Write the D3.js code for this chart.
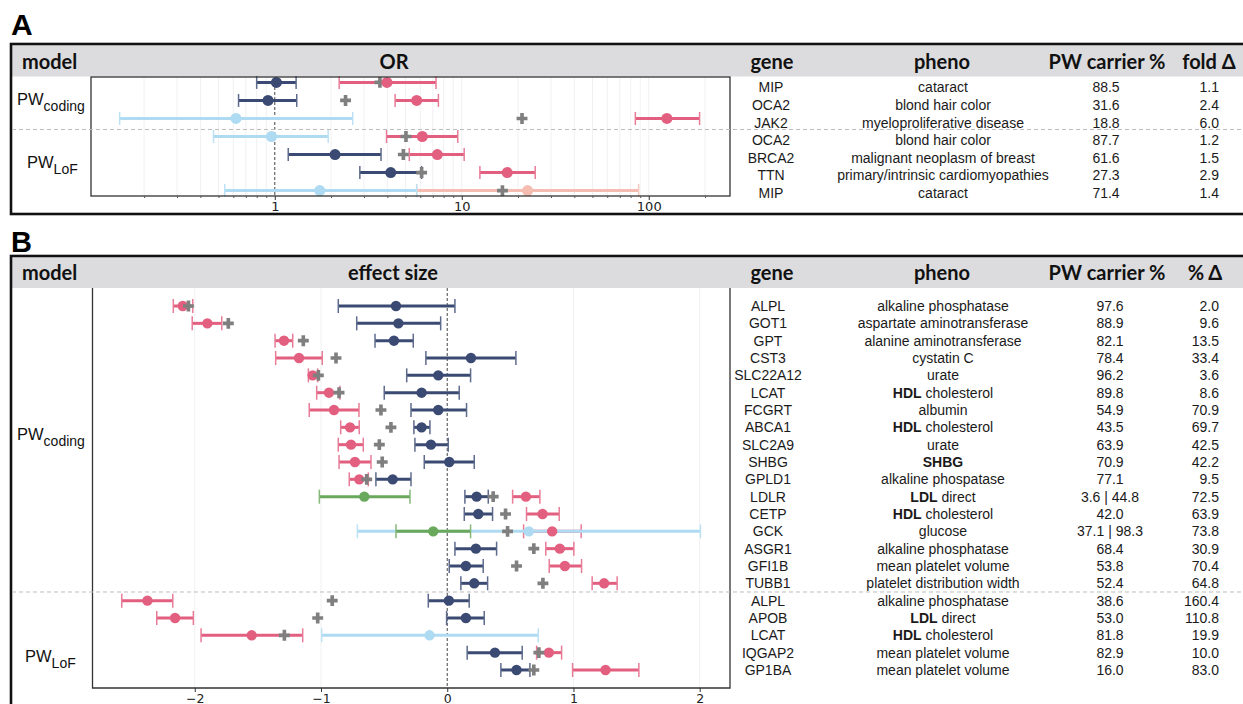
<!DOCTYPE html>
<html><head><meta charset="utf-8">
<script src="https://cdn.jsdelivr.net/npm/d3@7"></script>
<style>body{margin:0;background:#fff} svg{display:block}</style>
</head><body><svg id="c" width="1243" height="704"></svg>
<script>
// ---------- Panel A data (odds ratios) ----------
const aModel   = ["coding","coding","coding","LoF","LoF","LoF","LoF"];
const aGene    = ["MIP","OCA2","JAK2","OCA2","BRCA2","TTN","MIP"];
const aPheno   = ["cataract","blond hair color","myeloproliferative disease","blond hair color","malignant neoplasm of breast","primary/intrinsic cardiomyopathies","cataract"];
const aCarrier = ["88.5","31.6","18.8","87.7","61.6","27.3","71.4"];
const aFold    = ["1.1","2.4","6.0","1.2","1.5","2.9","1.4"];
const aPwEst   = [1.02,0.92,0.62,0.96,2.10,4.17,1.74];
const aPwLo    = [0.80,0.64,0.148,0.47,1.18,2.85,0.54];
const aPwHi    = [1.30,1.31,2.61,1.93,3.70,6.10,5.74];
const aPwSig   = [true,true,false,false,true,true,false];
const aNonEst  = [3.98,5.74,125,6.15,7.40,17.5,22.5];
const aNonLo   = [2.21,4.40,84.8,3.96,5.24,12.5,5.74];
const aNonHi   = [7.28,7.50,187,9.52,10.3,24.7,88.3];
const aNonSig  = [true,true,true,true,true,true,false];
const aAllEst  = [3.65,2.39,21.0,5.03,4.87,6.10,16.5];
const aTicks   = [1,10,100];

// ---------- Panel B data (effect sizes) ----------
const bModel   = ["coding","coding","coding","coding","coding","coding","coding","coding","coding","coding","coding","coding","coding","coding","coding","coding","coding","LoF","LoF","LoF","LoF","LoF"];
const bGene    = ["ALPL","GOT1","GPT","CST3","SLC22A12","LCAT","FCGRT","ABCA1","SLC2A9","SHBG","GPLD1","LDLR","CETP","GCK","ASGR1","GFI1B","TUBB1","ALPL","APOB","LCAT","IQGAP2","GP1BA"];
const bPheno   = ["alkaline phosphatase","aspartate aminotransferase","alanine aminotransferase","cystatin C","urate","HDL cholesterol","albumin","HDL cholesterol","urate","SHBG","alkaline phospatase","LDL direct","HDL cholesterol","glucose","alkaline phosphatase","mean platelet volume","platelet distribution width","alkaline phosphatase","LDL direct","HDL cholesterol","mean platelet volume","mean platelet volume"];
const bCarrier = ["97.6","88.9","82.1","78.4","96.2","89.8","54.9","43.5","63.9","70.9","77.1","3.6 | 44.8","42.0","37.1 | 98.3","68.4","53.8","52.4","38.6","53.0","81.8","82.9","16.0"];
const bPct     = ["2.0","9.6","13.5","33.4","3.6","8.6","70.9","69.7","42.5","42.2","9.5","72.5","63.9","73.8","30.9","70.4","64.8","160.4","110.8","19.9","10.0","83.0"];
const bPwEst   = [-0.406,-0.387,-0.422,0.188,-0.071,-0.203,-0.071,-0.203,-0.129,0.016,-0.432,0.233,0.246,0.647,0.227,0.148,0.214,0.013,0.148,-0.140,0.378,0.549];
const bPwLo    = [-0.863,-0.717,-0.572,-0.169,-0.321,-0.499,-0.287,-0.264,-0.256,-0.182,-0.565,0.140,0.135,-0.712,0.061,0.016,0.108,-0.150,-0.005,-0.995,0.158,0.425];
const bPwHi    = [0.061,-0.052,-0.269,0.544,0.185,0.095,0.153,-0.137,0.008,0.214,-0.287,0.325,0.359,2.006,0.391,0.285,0.320,0.174,0.293,0.721,0.594,0.655];
const bPwSig   = [true,true,true,true,true,true,true,true,true,true,true,true,true,false,true,true,true,true,true,false,true,true];
const bAltEst  = [null,null,null,null,null,null,null,null,null,null,null,-0.657,null,-0.111,null,null,null,null,null,null,null,null];
const bAltLo   = [null,null,null,null,null,null,null,null,null,null,null,-1.013,null,-0.406,null,null,null,null,null,null,null,null];
const bAltHi   = [null,null,null,null,null,null,null,null,null,null,null,-0.295,null,0.185,null,null,null,null,null,null,null,null];
const bNonEst  = [-2.095,-1.900,-1.293,-1.174,-1.066,-0.937,-0.897,-0.770,-0.762,-0.731,-0.697,0.623,0.755,0.831,0.892,0.932,1.243,-2.375,-2.156,-1.549,0.805,1.254];
const bNonLo   = [-2.170,-2.020,-1.364,-1.359,-1.100,-1.034,-1.093,-0.844,-0.863,-0.857,-0.776,0.518,0.628,0.605,0.781,0.808,1.148,-2.578,-2.301,-1.950,0.708,0.993];
const bNonHi   = [-2.016,-1.786,-1.224,-0.990,-1.026,-0.850,-0.699,-0.697,-0.665,-0.604,-0.625,0.734,0.887,1.061,1.003,1.064,1.346,-2.174,-2.011,-1.145,0.906,1.518];
const bAllEst  = [-2.050,-1.734,-1.140,-0.881,-1.021,-0.857,-0.525,-0.446,-0.538,-0.515,-0.638,0.364,0.462,0.478,0.686,0.549,0.758,-0.911,-1.026,-1.290,0.726,0.686];
const bTicks   = [-2,-1,0,1,2];

// ---------- styling ----------
const W = 1243, H = 704;
const COL = {navy:"#3b4a73", lblue:"#aedbf2", pink:"#e35f80", lpink:"#f5bdb1", green:"#6aa95b", gray:"#7f7f7f", hdr:"#dcdcde"};
const HFONT = "Lato, 'Open Sans', sans-serif";
const TFONT = "'Liberation Sans', Arial, Helvetica, sans-serif";
const AFONT = "'DejaVu Sans', sans-serif";
const svg = d3.select("#c");

function frame(top, bottom, hdrTop, hdrBot) {
  svg.append("rect").attr("x", 12).attr("y", hdrTop).attr("width", W).attr("height", hdrBot - hdrTop).attr("fill", COL.hdr);
  svg.append("rect").attr("x", 11).attr("y", top).attr("width", W + 20).attr("height", bottom - top)
    .attr("fill", "none").attr("stroke", "#111").attr("stroke-width", 2.6);
}
function headers(baseline, items) {
  items.forEach(([t, x, anchor]) => {
    svg.append("text").attr("x", x).attr("y", baseline).attr("text-anchor", anchor || "middle")
      .attr("font-family", HFONT).attr("font-weight", 700).attr("font-size", 20).attr("fill", "#111").text(t);
  });
}
function pwLabel(x, yb, sub) {
  const t = svg.append("text").attr("x", x).attr("y", yb).attr("font-family", TFONT).attr("font-size", 16.5).attr("fill", "#111");
  t.append("tspan").text("PW");
  t.append("tspan").attr("dy", 6).attr("font-size", 14).text(sub);
}
function sepLine(y) {
  svg.append("line").attr("x1", 12).attr("x2", W).attr("y1", y).attr("y2", y)
    .attr("stroke", "#bdbdbd").attr("stroke-width", 1).attr("stroke-dasharray", "4,3");
}
function table(yOf, n, cols) {
  const g = svg.append("g").attr("font-family", TFONT).attr("font-size", 14).attr("fill", "#1a1a1a");
  cols.forEach(c => {
    for (let i = 0; i < n; i++) {
      const t = g.append("text").attr("x", c.x).attr("y", yOf(i)).attr("dy", "0.36em").attr("text-anchor", c.anchor);
      const s = c.data[i];
      const m = c.bold ? s.match(/^(HDL|LDL|SHBG)(.*)$/) : null;
      if (m) { t.append("tspan").attr("font-weight", "bold").text(m[1]); t.append("tspan").text(m[2]); }
      else t.text(s);
    }
  });
}
function capColor(c) { return d3.interpolateRgb(c, "#ffffff")(0.18); }

function forest(g, x, y, n, series, crosses, crossOnTop, capH, r) {
  series.forEach(s => {
    for (let i = 0; i < n; i++) {
      if (s.est[i] == null) continue;
      const c = s.color(i);
      g.append("line").attr("x1", x(s.lo[i])).attr("x2", x(s.hi[i])).attr("y1", y(i)).attr("y2", y(i))
        .attr("stroke", c).attr("stroke-width", 3);
      [s.lo[i], s.hi[i]].forEach(v => g.append("line").attr("x1", x(v)).attr("x2", x(v))
        .attr("y1", y(i) - capH / 2).attr("y2", y(i) + capH / 2).attr("stroke", capColor(c)).attr("stroke-width", 1.5));
    }
  });
  const drawCross = () => {
    g.selectAll(null).data(crosses).join("path")
      .attr("d", d3.symbol(d3.symbolCross, 66))
      .attr("transform", (d, i) => `translate(${x(d)},${y(i)})`).attr("fill", COL.gray);
  };
  if (!crossOnTop) drawCross();
  series.forEach(s => {
    for (let i = 0; i < n; i++) {
      if (s.est[i] == null) continue;
      g.append("circle").attr("cx", x(s.est[i])).attr("cy", y(i)).attr("r", r).attr("fill", s.color(i));
    }
  });
  if (crossOnTop) drawCross();
}

// ---------- Letters ----------
svg.append("text").attr("x", 11).attr("y", 35).attr("font-family", TFONT).attr("font-weight", "bold").attr("font-size", 30).text("A");
svg.append("text").attr("x", 11).attr("y", 252).attr("font-family", TFONT).attr("font-weight", "bold").attr("font-size", 29).text("B");

// =================== Panel A ===================
frame(44, 214, 45.5, 76.5);
headers(69, [["model", 22, "start"], ["OR", 394], ["gene", 772], ["pheno", 942], ["PW carrier %", 1107], ["fold Δ", 1209]]);

const xA = d3.scaleLog().domain([0.104, 272]).range([91, 730]);
const yA = d3.scalePoint().domain(d3.range(aGene.length)).range([77, 196]).padding(0.3);
const yAt = d3.scalePoint().domain(d3.range(aGene.length)).range([78.7, 201.3]).padding(0.5);
const gA = svg.append("g");
gA.append("rect").attr("x", 91).attr("y", 77).attr("width", 639).attr("height", 119).attr("fill", "#fff");
const minorA = [];
[0.1, 1, 10, 100].forEach(d => { for (let k = 2; k <= 9; k++) if (d * k < 272 && d * k > 0.104) minorA.push(d * k); });
gA.selectAll(null).data(minorA.concat([10, 100])).join("line")
  .attr("x1", d => xA(d)).attr("x2", d => xA(d)).attr("y1", 77).attr("y2", 196)
  .attr("stroke", "#f1f1f4").attr("stroke-width", 1);
sepLine((yA(2) + yA(3)) / 2 + 2);
gA.append("line").attr("x1", xA(1)).attr("x2", xA(1)).attr("y1", 77).attr("y2", 196)
  .attr("stroke", "#444").attr("stroke-width", 1).attr("stroke-dasharray", "3,2");
forest(gA, xA, yA, aGene.length, [
  {est: aNonEst, lo: aNonLo, hi: aNonHi, color: i => aNonSig[i] ? COL.pink : COL.lpink},
  {est: aPwEst, lo: aPwLo, hi: aPwHi, color: i => aPwSig[i] ? COL.navy : COL.lblue}
], aAllEst, false, 13, 5.5);
gA.append("rect").attr("x", 91).attr("y", 77).attr("width", 639).attr("height", 119)
  .attr("fill", "none").attr("stroke", "#333").attr("stroke-width", 1.3);
const axA = svg.append("g").attr("transform", "translate(0,196)")
  .call(d3.axisBottom(xA).tickValues(aTicks).tickFormat(d3.format("d")).tickSize(4).tickPadding(2));
svg.append("g").attr("transform", "translate(0,196)")
  .call(d3.axisBottom(xA).tickValues(minorA.filter(d => aTicks.indexOf(d) < 0)).tickFormat("").tickSize(2))
  .call(g => g.select(".domain").remove()).selectAll("line").attr("stroke", "#555");
axA.select(".domain").remove();
axA.selectAll("text").attr("font-family", AFONT).attr("font-size", 13).attr("fill", "#222");
axA.selectAll("line").attr("stroke", "#333");
pwLabel(17, 105, "coding");
pwLabel(27, 168, "LoF");
table(yAt, aGene.length, [
  {x: 771, anchor: "middle", data: aGene},
  {x: 943, anchor: "middle", data: aPheno},
  {x: 1106, anchor: "middle", data: aCarrier},
  {x: 1219, anchor: "end", data: aFold}
]);

// =================== Panel B ===================
frame(256, H + 20, 257.5, 288);
headers(280, [["model", 22, "start"], ["effect size", 393], ["gene", 772], ["pheno", 942], ["PW carrier %", 1107], ["% Δ", 1205]]);

const xB = d3.scaleLinear().domain([-2.81, 2.24]).range([92.5, 730]);
const yB = d3.scalePoint().domain(d3.range(bGene.length)).range([288, 688]).padding(1.04);
const gB = svg.append("g");
gB.selectAll(null).data(bTicks.filter(d => d !== 0)).join("line")
  .attr("x1", d => xB(d)).attr("x2", d => xB(d)).attr("y1", 288).attr("y2", 688)
  .attr("stroke", "#f1f1f4").attr("stroke-width", 1);
sepLine((yB(16) + yB(17)) / 2);
gB.append("line").attr("x1", xB(0)).attr("x2", xB(0)).attr("y1", 288).attr("y2", 688)
  .attr("stroke", "#444").attr("stroke-width", 1).attr("stroke-dasharray", "3,2");
forest(gB, xB, yB, bGene.length, [
  {est: bNonEst, lo: bNonLo, hi: bNonHi, color: () => COL.pink},
  {est: bPwEst, lo: bPwLo, hi: bPwHi, color: i => bPwSig[i] ? COL.navy : COL.lblue},
  {est: bAltEst, lo: bAltLo, hi: bAltHi, color: () => COL.green}
], bAllEst, true, 14, 5.2);
gB.append("path").attr("d", `M92.5,288V688H730V288`).attr("fill", "none").attr("stroke", "#333").attr("stroke-width", 1.3);
const axB = svg.append("g").attr("transform", "translate(0,688)")
  .call(d3.axisBottom(xB).tickValues(bTicks).tickFormat(d => d < 0 ? "\u2212" + Math.abs(d) : String(d)).tickSize(4).tickPadding(2));
axB.select(".domain").remove();
axB.selectAll("text").attr("font-family", AFONT).attr("font-size", 12.5).attr("fill", "#222");
axB.selectAll("line").attr("stroke", "#333");
pwLabel(17, 440, "coding");
pwLabel(25, 662, "LoF");
table(yB, bGene.length, [
  {x: 768, anchor: "middle", data: bGene},
  {x: 943, anchor: "middle", data: bPheno, bold: true},
  {x: 1110, anchor: "middle", data: bCarrier},
  {x: 1219, anchor: "end", data: bPct}
]);
</script></body></html>
